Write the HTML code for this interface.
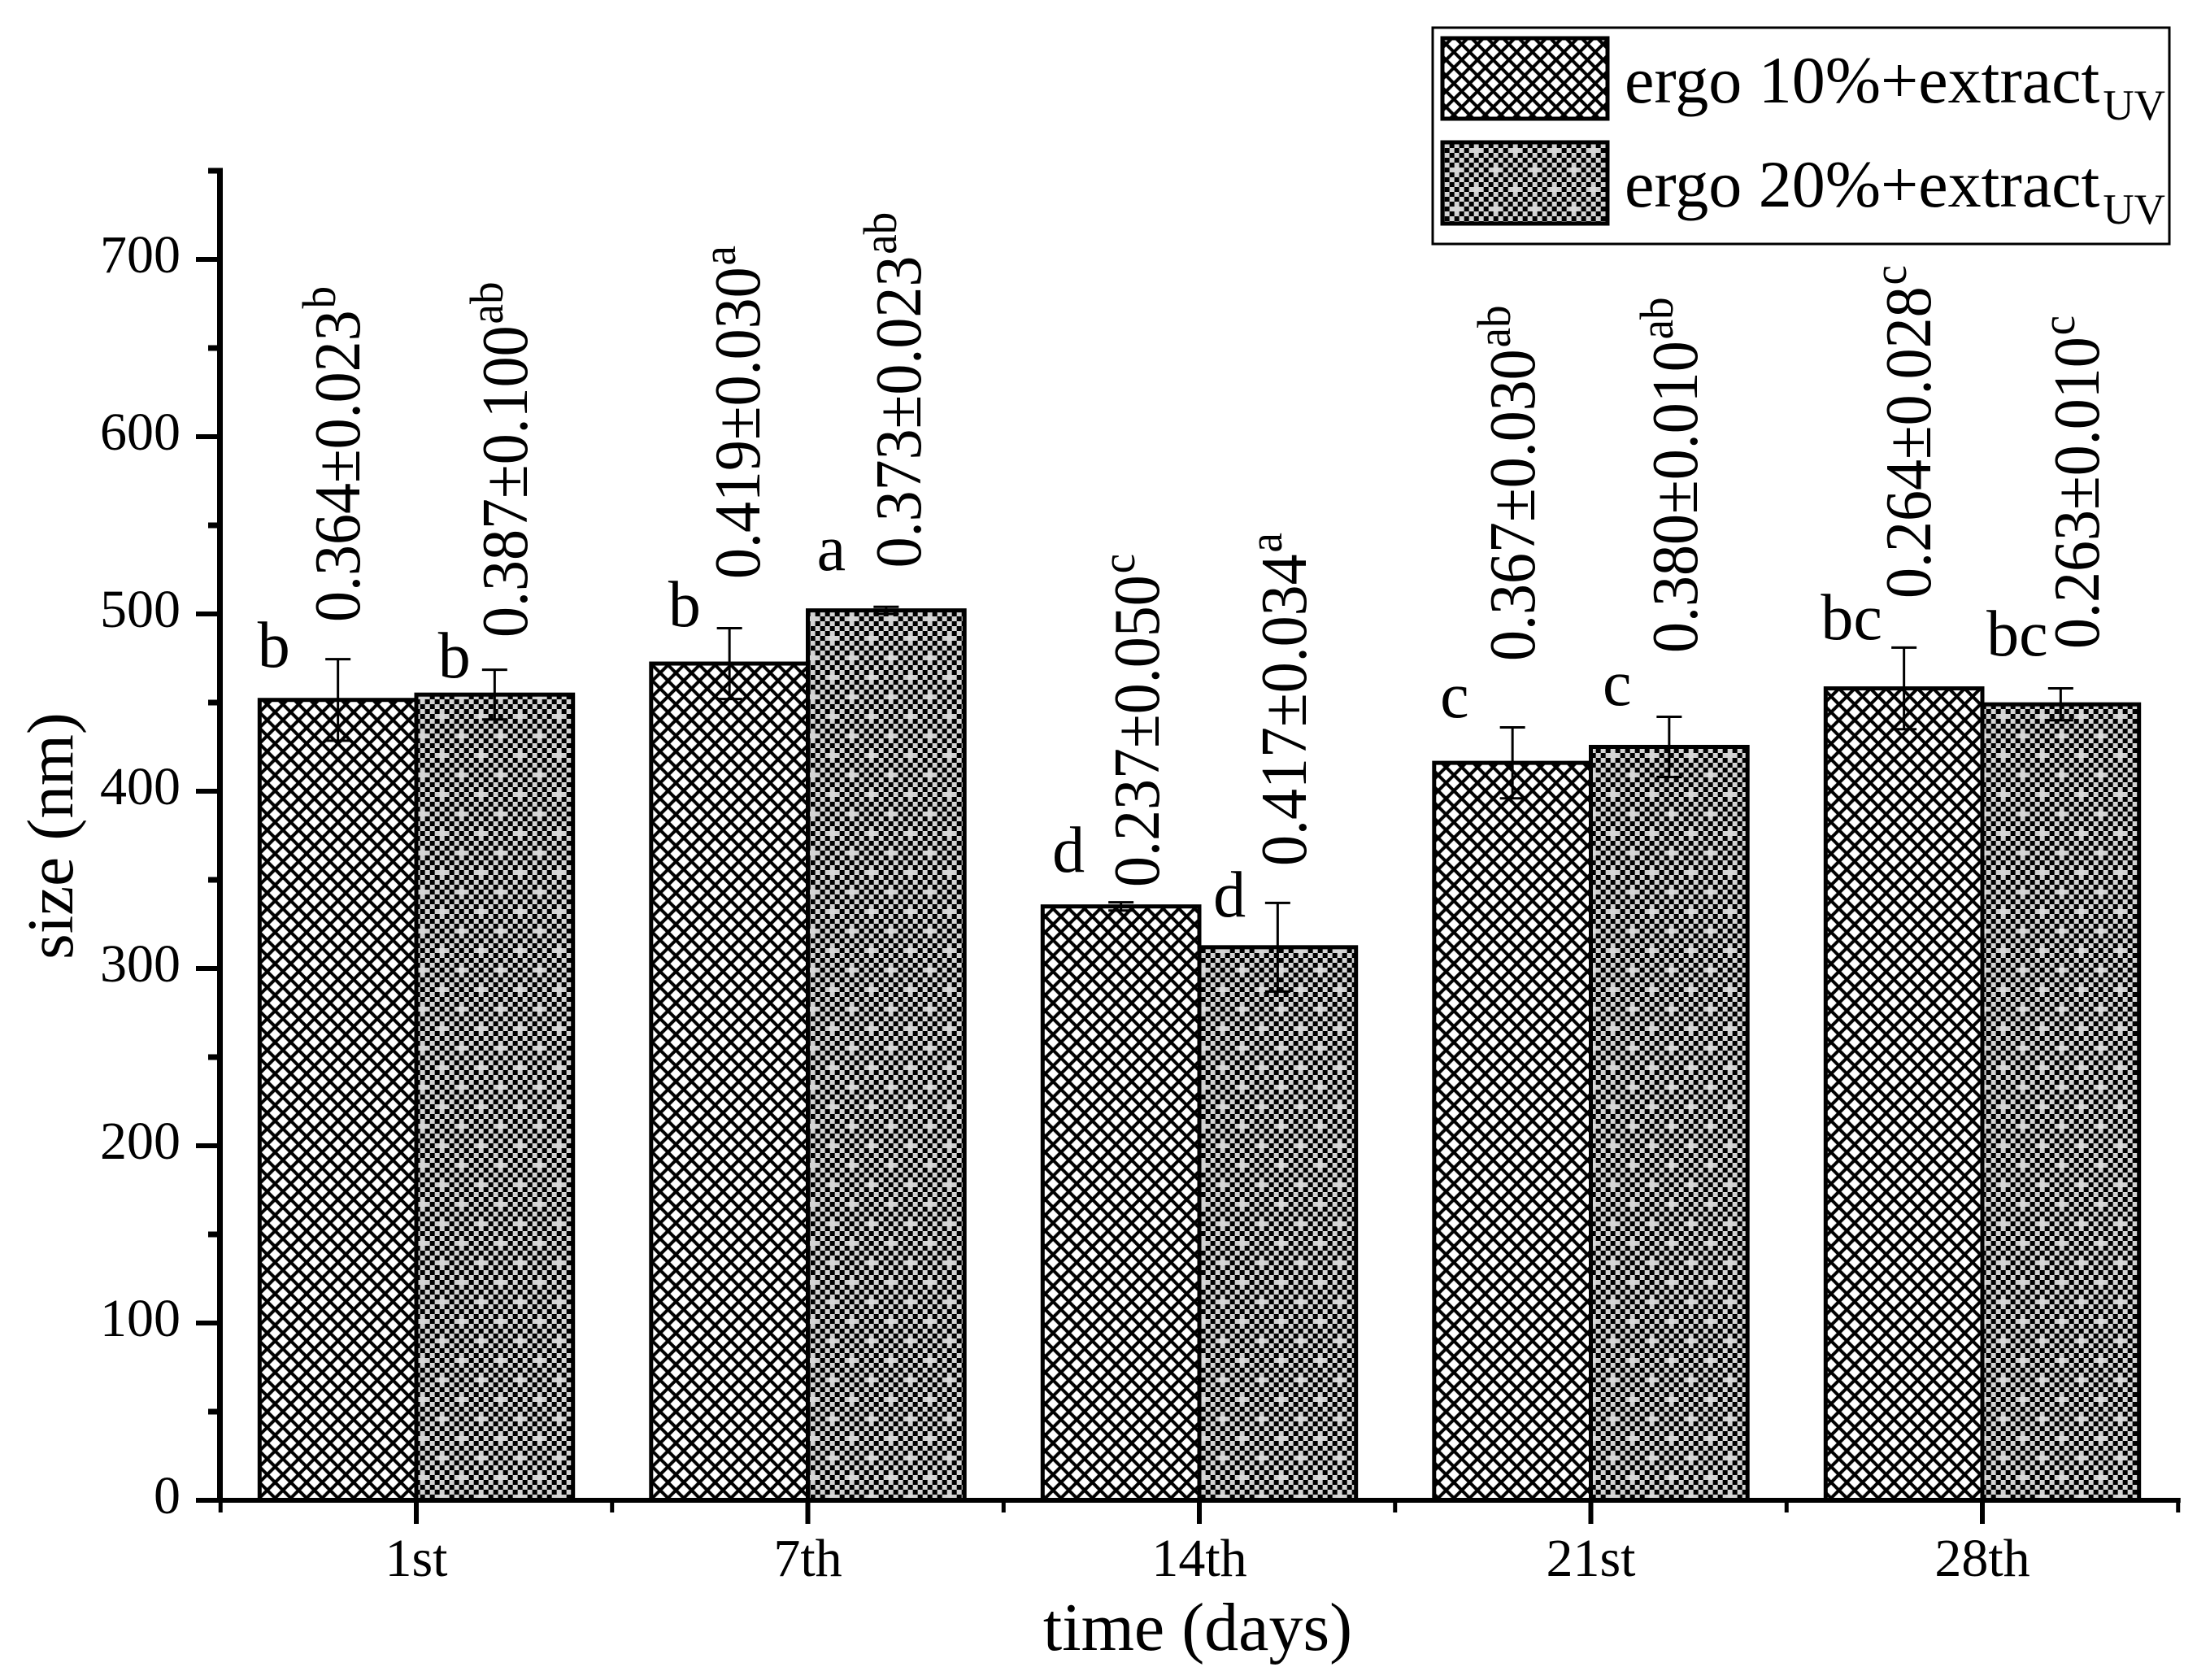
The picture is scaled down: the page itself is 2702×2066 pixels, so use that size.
<!DOCTYPE html>
<html lang="en">
<head>
<meta charset="utf-8">
<title>Particle size over time</title>
<style>
html,body{margin:0;padding:0;background:#fff}
svg{display:block}
text{font-family:"Liberation Serif",serif;fill:#000}
</style>
</head>
<body>
<svg id="chart" xmlns="http://www.w3.org/2000/svg" width="2702" height="2066" viewBox="0 0 2702 2066">
  <defs>
    <pattern id="hatch" patternUnits="userSpaceOnUse" width="19.33" height="19.33" x="319" y="1765">
      <rect width="19.33" height="19.33" fill="#fff"/>
      <path d="M-2,-2L21.33,21.33M21.33,-2L-2,21.33" stroke="#000" stroke-width="4" fill="none"/>
    </pattern>
    <pattern id="check" patternUnits="userSpaceOnUse" width="48" height="48" x="588.67" y="1022">
      <rect width="48" height="48" fill="#d3d3d3"/>
      <path id="check-cells" fill="#000" d=""/>
    </pattern>
  </defs>
  <rect width="2702" height="2066" fill="#fff"/>
  <g id="bars"></g>
  <g id="errors"></g>
  <g id="axes"></g>
  <g id="notes"></g>
  <text x="1473" y="2029" font-size="84" text-anchor="middle">time (days)</text>
  <text transform="translate(89,1028) rotate(-90)" font-size="81" text-anchor="middle">size (nm)</text>
  <g>
    <rect x="1762" y="34" width="906" height="266" fill="#fff" stroke="#000" stroke-width="3"/>
    <rect x="1774" y="47" width="203" height="99" fill="url(#hatch)" stroke="#000" stroke-width="5"/>
    <text x="1998" y="126" font-size="82">ergo 10%+extract<tspan font-size="53" dy="21" dx="4">UV</tspan></text>
    <rect x="1774" y="175" width="203" height="100" fill="url(#check)" stroke="#000" stroke-width="5"/>
    <text x="1998" y="254" font-size="82">ergo 20%+extract<tspan font-size="53" dy="21" dx="4">UV</tspan></text>
  </g>
</svg>
<script>
const categories = ["1st", "7th", "14th", "21st", "28th"];
const series1Values = [451.5, 472, 335, 416, 458];
const series2Values = [454.5, 502, 312, 425, 449];
const series1Errors = [23, 20, 2.3, 20, 23];
const series2Errors = [14, 2, 25, 17, 9];
const yTickValues = [0, 100, 200, 300, 400, 500, 600, 700];
const yMinorValues = [50, 150, 250, 350, 450, 550, 650, 750];

// Printed annotations, one per bar (series 1, series 2 per category)
const valueLabels = ["0.364±0.023", "0.387±0.100", "0.419±0.030", "0.373±0.023", "0.237±0.050", "0.417±0.034", "0.367±0.030", "0.380±0.010", "0.264±0.028", "0.263±0.010"];
const valueSupers = ["b", "ab", "a", "ab", "c", "a", "ab", "ab", "c", "c"];
const groupLetters = ["b", "b", "b", "a", "d", "d", "c", "c", "bc", "bc"];
// Annotation anchors in data units: category index and nm
const valueLabelCat = [-0.145, 0.282, 0.876, 1.288, 1.896, 2.272, 2.856, 3.271, 3.867, 4.297];
const valueLabelNm = [495.4, 486.7, 519.7, 526, 345.9, 357.8, 473.4, 478, 508.7, 480.3];
const letterCat = [-0.364, 0.097, 0.685, 1.06, 1.666, 2.077, 2.652, 3.067, 3.666, 4.089];
const letterNm = [470.2, 464.2, 493.1, 524.8, 354.6, 329.4, 441.7, 448.6, 485.8, 476.6];

const NS = "http://www.w3.org/2000/svg";
const X0 = 512, XSTEP = 481.5, Y0 = 1845, YUNIT = 2.18, BARW = 192.7;
function xScale(c) { return X0 + XSTEP * c; }
function yScale(v) { return Y0 - YUNIT * v; }
function make(tag, parent, attrs) {
  const el = document.createElementNS(NS, tag);
  for (const k in attrs) el.setAttribute(k, attrs[k]);
  parent.appendChild(el);
  return el;
}

// Checker pattern cells
let cells = "";
for (let j = 0; j < 8; j++) {
  for (let i = 0; i < 8; i++) {
    if ((i + j) % 2 !== 0) continue;
    if ((i === 0 && j === 0) || (i === 4 && j === 4)) continue;
    cells += "M" + (i * 6) + " " + (j * 6) + "h6v6h-6z";
  }
}
document.getElementById("check-cells").setAttribute("d", cells);

const barsG = document.getElementById("bars");
const errG = document.getElementById("errors");
const axesG = document.getElementById("axes");
const notesG = document.getElementById("notes");

function drawBar(value, left, fill, name) {
  const el = make("rect", barsG, {
    x: left, y: yScale(value), width: BARW, height: yScale(0) - yScale(value),
    fill: fill, stroke: "#000", "stroke-width": 5
  });
  
  
}
function drawError(value, err, cx, name) {
  const top = yScale(value + err), bot = yScale(value - err);
  const el = make("path", errG, {
    d: "M" + (cx - 15.5) + " " + top + "H" + (cx + 15.5) + "M" + cx + " " + top + "V" + bot + "M" + (cx - 15.5) + " " + bot + "H" + (cx + 15.5),
    stroke: "#000", "stroke-width": 3, fill: "none"
  });
  
  
}

categories.forEach(function (cat, i) {
  const c = xScale(i);
  drawBar(series1Values[i], c - BARW, "url(#hatch)", "bar-ergo-10-" + cat);
  drawBar(series2Values[i], c, "url(#check)", "bar-ergo-20-" + cat);
  drawError(series1Values[i], series1Errors[i], c - BARW / 2, "error-bar-ergo-10-" + cat);
  drawError(series2Values[i], series2Errors[i], c + BARW / 2, "error-bar-ergo-20-" + cat);
});

// Axis lines
const yAxis = make("line", axesG, { x1: 270.5, x2: 270.5, y1: yScale(750) - 3.5, y2: yScale(0), stroke: "#000", "stroke-width": 7 });


const xAxis = make("line", axesG, { x1: 241, x2: xScale(4) + XSTEP / 2 + 3, y1: yScale(0), y2: yScale(0), stroke: "#000", "stroke-width": 6 });



// Y ticks
yTickValues.forEach(function (v) {
  const t = make("line", axesG, { x1: 241, x2: 270, y1: yScale(v), y2: yScale(v), stroke: "#000", "stroke-width": 6 });
  
  
  const l = make("text", axesG, { x: 222, y: yScale(v) + 16, "font-size": 66, "text-anchor": "end" });
  l.textContent = String(v);
  
  
});
yMinorValues.forEach(function (v) {
  const t = make("line", axesG, { x1: 256, x2: 270, y1: yScale(v), y2: yScale(v), stroke: "#000", "stroke-width": 7 });
  
  
});

// X ticks
categories.forEach(function (cat, i) {
  const x = xScale(i);
  const t = make("line", axesG, { x1: x, x2: x, y1: yScale(0), y2: 1874, stroke: "#000", "stroke-width": 6 });
  
  
  const l = make("text", axesG, { x: x, y: 1938, "font-size": 66, "text-anchor": "middle" });
  l.textContent = cat;
  
  
});
for (let i = -1; i < categories.length; i++) {
  const x = xScale(i + 0.5);
  const t = make("line", axesG, { x1: x, x2: x, y1: yScale(0), y2: 1860, stroke: "#000", "stroke-width": 5 });
  
  
}

// Rotated value labels and group letters
valueLabels.forEach(function (txt, i) {
  const x = xScale(valueLabelCat[i]), y = yScale(valueLabelNm[i]);
  const t = make("text", notesG, { transform: "translate(" + x + "," + y + ") rotate(-90) scale(0.95,1)", "font-size": 80 });
  t.textContent = txt;
  
  
  const sup = make("tspan", t, { "font-size": 58, dy: -30, dx: 2 });
  sup.textContent = valueSupers[i];
  const l = make("text", notesG, { x: xScale(letterCat[i]), y: yScale(letterNm[i]), "font-size": 80, "text-anchor": "middle" });
  l.textContent = groupLetters[i];
  
  
});
</script>
</body>
</html>
